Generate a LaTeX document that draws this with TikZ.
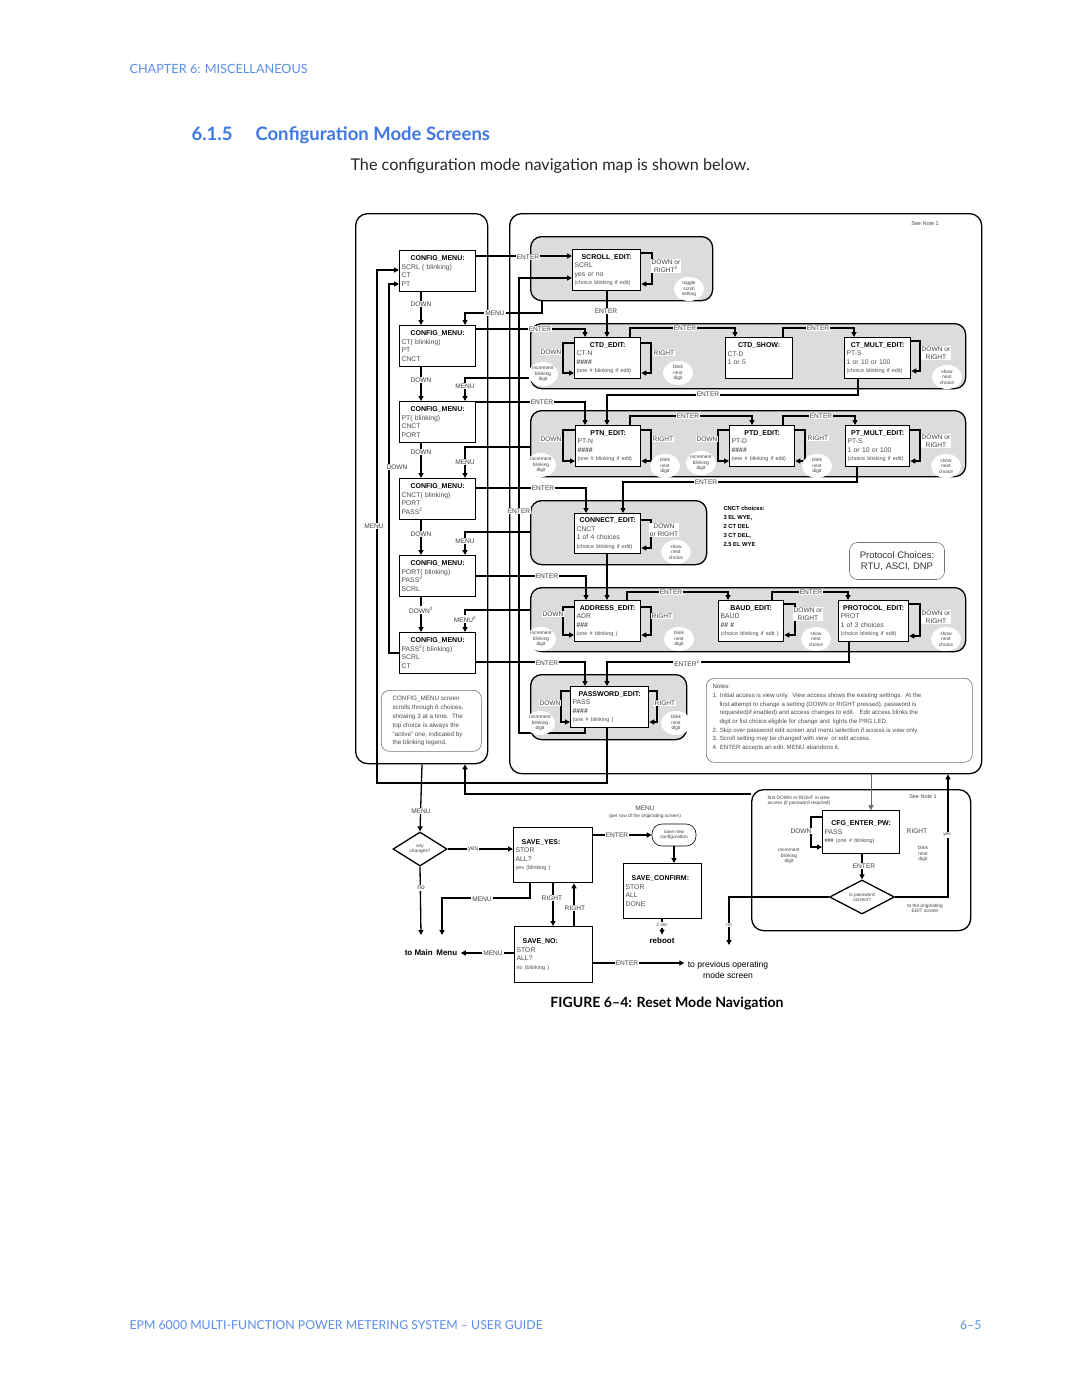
\documentclass[tikz,border=0pt]{standalone}
\usepackage{fontspec}
\usepackage{tikz}
\usetikzlibrary{arrows.meta,shapes.geometric}
\setmainfont{Liberation Sans}
\newfontfamily\pagefont{Lato}
\newfontfamily\diafont{Liberation Sans}
\definecolor{headblue}{HTML}{3F77E3}
\definecolor{chapblue}{HTML}{5B8DEC}
\definecolor{panelgray}{HTML}{DCDCDC}
\newcommand\boxfont{\diafont\fontsize{6.8}{8.6}\selectfont}
\newcommand\finefont{\fontsize{5.4}{8.6}\selectfont}
\newcommand\labfont{\diafont\fontsize{6.6}{7.6}\selectfont}
\newcommand\blobfont{\diafont\fontsize{4.8}{5.4}\selectfont}
\newcommand\notefont{\diafont\fontsize{6.1}{8.7}\selectfont}
\newcommand\scrtitle[1]{\makebox[\linewidth]{\color{black}\bfseries\fontsize{7}{8.6}\selectfont #1}}
\newcommand\scrleft[1]{\hspace*{6pt}{\color{black}\bfseries\fontsize{7}{8.6}\selectfont #1}}

\begin{document}
\begin{tikzpicture}[x=1pt,y=-1pt,
  every node/.style={font=\diafont},
  frame/.style={draw, line width=1.3pt, rounded corners=12pt, anchor=north west, inner sep=0pt},
  panel/.style={draw, line width=1.3pt, fill=panelgray, rounded corners=11pt, anchor=north west, inner sep=0pt},
  note/.style={draw=black!55, line width=0.6pt, rounded corners=8pt, anchor=north west, inner sep=0pt},
  screen/.style={draw, line width=1.3pt, fill=white, anchor=north west, align=left, inner xsep=2pt, inner ysep=2pt, font=\boxfont, text=black!70},
  lbl/.style={fill=white, inner sep=1pt, font=\labfont, text=black!75, align=center},
  blob/.style={ellipse, fill=white, inner sep=0pt, minimum width=30pt, minimum height=24pt, align=center, font=\blobfont, text=black!75},
  choice/.style={diamond, draw, line width=1.3pt, fill=white, aspect=1.6, inner sep=0pt, align=center, font=\blobfont, text=black!75},
  arr/.style={line width=1.3pt, -{Triangle[length=5pt,width=5pt]}},
  thinarr/.style={line width=0.5pt, draw=black!60, -{Triangle[length=5pt,width=5pt]}}
]
\fill[white] (0,0) rectangle (1080,1397);
\useasboundingbox (0,0) rectangle (1080,1397);

% page text
\node[anchor=base west, font=\pagefont\fontsize{12.7}{15}\selectfont, text=chapblue] (chap) at (126,74) {CHAPTER 6: MISCELLANEOUS};
\node[anchor=base west, font=\pagefont\bfseries\fontsize{18.5}{21}\selectfont, text=headblue] (secnum) at (188,140) {6.1.5};
\node[anchor=base west, font=\pagefont\bfseries\fontsize{18.5}{21}\selectfont, text=headblue] (sectitle) at (252,140) {Configuration Mode Screens};
\node[anchor=base west, font=\pagefont\fontsize{16.2}{19}\selectfont, text=black!85] (intro) at (347,170) {The configuration mode navigation map is shown below.};
\node[anchor=base, font=\pagefont\bfseries\fontsize{14.1}{16}\selectfont] (caption) at (667,1007) {FIGURE 6–4: Reset Mode Navigation};
\node[anchor=base west, font=\pagefont\fontsize{12.3}{14}\selectfont, text=chapblue] (foot) at (126,1329) {EPM 6000 MULTI-FUNCTION POWER METERING SYSTEM – USER GUIDE};
\node[anchor=base east, font=\pagefont\fontsize{12.3}{14}\selectfont, text=chapblue] (pagenum) at (985,1329) {6–5};

% frames and panels
\node[frame, minimum width=132pt, minimum height=550pt] (leftframe) at (355,213) {};
\node[frame, minimum width=472pt, minimum height=560pt] (rightframe) at (509,213) {};
\node[panel, minimum width=182pt, minimum height=64pt] (p1) at (530,236) {};
\node[panel, minimum width=435pt, minimum height=65pt] (p2) at (530,323) {};
\node[panel, minimum width=435pt, minimum height=66pt] (p3) at (530,410) {};
\node[panel, minimum width=176pt, minimum height=64pt] (p4) at (530,500) {};
\node[panel, minimum width=435pt, minimum height=64pt] (p5) at (530,587) {};
\node[panel, minimum width=156pt, minimum height=65pt] (p6) at (530,674) {};
\node[note, minimum width=100pt, minimum height=61pt] (cmnote) at (381,690) {};
\node[note, minimum width=266pt, minimum height=84pt] (notes) at (706,678) {};
\node[frame, minimum width=219pt, minimum height=141pt] (pwframe) at (751,789) {};

% config menu screens
\node[screen, text width=72pt, minimum height=41pt] (cm1) at (399,250) {\scrtitle{CONFIG\_MENU:}\\SCRL ( blinking)\\CT\\PT};
\node[screen, text width=72pt, minimum height=41pt] (cm2) at (399,325) {\scrtitle{CONFIG\_MENU:}\\CT( blinking)\\PT\\CNCT};
\node[screen, text width=72pt, minimum height=41pt] (cm3) at (399,401) {\scrtitle{CONFIG\_MENU:}\\PT( blinking)\\CNCT\\PORT};
\node[screen, text width=72pt, minimum height=41pt] (cm4) at (399,478) {\scrtitle{CONFIG\_MENU:}\\CNCT( blinking)\\PORT\\PASS\textsuperscript{2}};
\node[screen, text width=72pt, minimum height=41pt] (cm5) at (399,555) {\scrtitle{CONFIG\_MENU:}\\PORT( blinking)\\PASS\textsuperscript{2}\\SCRL};
\node[screen, text width=72pt, minimum height=41pt] (cm6) at (399,632) {\scrtitle{CONFIG\_MENU:}\\PASS\textsuperscript{2}( blinking)\\SCRL\\CT};

% edit screens
\node[screen, text width=64pt, minimum height=41pt] (scrolledit) at (572,249) {\scrtitle{SCROLL\_EDIT:}\\SCRL\\yes or no\\{\finefont (choice blinking if edit)}};
\node[screen, text width=62pt, minimum height=41pt] (ctdedit) at (574,337) {\scrtitle{CTD\_EDIT:}\\CT-N\\{\bfseries\#\#\#\#}\\{\finefont (one \# blinking if edit)}};
\node[screen, text width=63pt, minimum height=41pt] (ctdshow) at (725,337) {\scrtitle{CTD\_SHOW:}\\CT-D\\1 or 5\\\mbox{}};
\node[screen, text width=62pt, minimum height=41pt] (ctmult) at (844,337) {\scrtitle{CT\_MULT\_EDIT:}\\PT-S\\1 or 10 or 100\\{\finefont (choice blinking if edit)}};
\node[screen, text width=61pt, minimum height=41pt] (ptnedit) at (575,425) {\scrtitle{PTN\_EDIT:}\\PT-N\\{\bfseries\#\#\#\#}\\{\finefont (one \# blinking if edit)}};
\node[screen, text width=61pt, minimum height=41pt] (ptdedit) at (729,425) {\scrtitle{PTD\_EDIT:}\\PT-D\\{\bfseries\#\#\#\#}\\{\finefont (one \# blinking if edit)}};
\node[screen, text width=60pt, minimum height=41pt] (ptmult) at (845,425) {\scrtitle{PT\_MULT\_EDIT:}\\PT-S\\1 or 10 or 100\\{\finefont (choice blinking if edit)}};
\node[screen, text width=62pt, minimum height=40pt] (connedit) at (574,513) {\scrtitle{CONNECT\_EDIT:}\\CNCT\\1 of 4 choices\\{\finefont (choice blinking if edit)}};
\node[screen, text width=62pt, minimum height=41pt] (addredit) at (574,600) {\scrtitle{ADDRESS\_EDIT:}\\ADR\\{\bfseries\#\#\#}\\{\finefont (one \# blinking )}};
\node[screen, text width=61pt, minimum height=41pt] (baudedit) at (718,600) {\scrtitle{BAUD\_EDIT:}\\BAUD\\{\bfseries\#\# \#}\\{\finefont (choice blinking if edit )}};
\node[screen, text width=66pt, minimum height=41pt] (protedit) at (838,600) {\scrtitle{PROTOCOL\_EDIT:}\\PROT\\1 of 3 choices\\{\finefont (choice blinking if edit)}};
\node[screen, text width=74pt, minimum height=41pt] (passedit) at (570,686) {\scrtitle{PASSWORD\_EDIT:}\\PASS\\{\bfseries\#\#\#\#}\\{\finefont (one \# blinking )}};

% save and password screens
\node[screen, text width=75pt, minimum height=55pt] (saveyes) at (513,827) {\scrleft{SAVE\_YES:}\\STOR\\ALL?\\{\finefont yes (blinking )}};
\node[screen, text width=74pt, minimum height=56pt] (saveno) at (514,926) {\scrleft{SAVE\_NO:}\\STOR\\ALL?\\{\finefont no (blinking )}};
\node[screen, text width=74pt, minimum height=55pt] (saveconf) at (623,863) {\scrleft{SAVE\_CONFIRM:}\\STOR\\ALL\\DONE};
\node[screen, text width=73pt, minimum height=43pt] (cfgpw) at (822,810) {\scrtitle{CFG\_ENTER\_PW:}\\PASS\\{\finefont\bfseries\#\#\#}{\finefont\ (one \# blinking)}};
\node[choice, minimum width=54pt, minimum height=34pt] (anychg) at (420,849) {any\\changes?};
\node[choice, minimum width=65pt, minimum height=34pt] (pwok) at (862,897) {is password\\correct?};
\node[draw, line width=0.6pt, rounded corners=10pt, minimum width=44pt, minimum height=22pt, inner sep=0pt, align=center, font=\blobfont, text=black!75] (savenew) at (674,835) {save new\\configuration};
\node[font=\diafont\bfseries\fontsize{8}{9}\selectfont] (tomain) at (431,953) {to Main\, Menu};
\node[align=center, font=\diafont\fontsize{8.6}{11}\selectfont] (toprev) at (728,970) {to previous operating\\mode screen};
\node[font=\diafont\bfseries\fontsize{8}{9}\selectfont] (reboot) at (662,941) {reboot};
\coordinate (nomain) at (421,935);
\coordinate (menumain) at (442,935);
\coordinate (prevgo) at (729,945);

% down arrows between config menus
\draw[arr] (cm1.south -| 421,0) -- (cm2.north -| 421,0);
\draw[arr] (cm2.south -| 421,0) -- (cm3.north -| 421,0);
\draw[arr] (cm3.south -| 421,0) -- (cm4.north -| 421,0);
\draw[arr] (cm4.south -| 421,0) -- (cm5.north -| 421,0);
\draw[arr] (cm5.south -| 421,0) -- (cm6.north -| 421,0);
\draw[arr] (cm6.west |- 0,653) -| (389,284) -- (cm1.west |- 0,284);
\draw[arr] (passedit.south -| 607,0) -- (607,783) -| (377,270) -- (cm1.west |- 0,270);

% menu returns
\draw[arr] (p1.south -| 542,0) |- (465,313) -- (cm2.north -| 465,0);
\draw[arr] (p2.west |- 0,378) -| (cm3.north -| 465,0);
\draw[arr] (p3.west |- 0,447) -| (cm4.north -| 465,0);
\draw[arr] (p4.west |- 0,532) -| (cm5.north -| 465,0);
\draw[arr] (p5.west |- 0,610) -| (cm6.north -| 465,0);

% enter from config menus
\draw[arr] (cm1.east |- 0,256) -- (scrolledit.west |- 0,256);
\draw[arr] (cm2.east |- 0,329) -| (ctdedit.north -| 585,0);
\draw[arr] (cm3.east |- 0,402) -| (ptnedit.north -| 585,0);
\draw[arr] (cm4.east |- 0,488) -| (connedit.north -| 586,0);
\draw[arr] (cm5.east |- 0,576) -| (addredit.north -| 586,0);
\draw[arr] (cm6.east |- 0,662) -| (passedit.north -| 585,0);

% scroll row
\draw[arr] (scrolledit.east |- 0,253) -| (652,284) -- (scrolledit.east |- 0,284);
\draw[arr] (scrolledit.south -| 607,0) -- (ctdedit.north -| 607,0);

% ct row
\draw[arr] (ctdedit.west |- 0,343) -| (563,373) -- (ctdedit.west |- 0,373);
\draw[arr] (ctdedit.east |- 0,343) -| (651,373) -- (ctdedit.east |- 0,373);
\draw[arr] (ctdedit.north -| 630,0) |- (735,328) -- (ctdshow.north -| 735,0);
\draw[arr] (ctdshow.north -| 783,0) |- (854,328) -- (ctmult.north -| 854,0);
\draw[arr] (ctmult.east |- 0,341) -| (920,371) -- (ctmult.east |- 0,371);
\draw[arr] (ctmult.south -| 858,0) |- (607,395) -- (ptnedit.north -| 607,0);

% pt row
\draw[arr] (ptnedit.west |- 0,430) -| (563,461) -- (ptnedit.west |- 0,461);
\draw[arr] (ptnedit.east |- 0,430) -| (651,461) -- (ptnedit.east |- 0,461);
\draw[arr] (ptnedit.north -| 630,0) |- (752,416) -- (ptdedit.north -| 752,0);
\draw[arr] (ptdedit.west |- 0,430) -| (718,461) -- (ptdedit.west |- 0,461);
\draw[arr] (ptdedit.east |- 0,430) -| (805,461) -- (ptdedit.east |- 0,461);
\draw[arr] (ptdedit.north -| 783,0) |- (855,416) -- (ptmult.north -| 855,0);
\draw[arr] (ptmult.east |- 0,430) -| (920,461) -- (ptmult.east |- 0,461);
\draw[arr] (ptmult.south -| 857,0) |- (623,482) -- (connedit.north -| 623,0);

% connect row
\draw[arr] (connedit.east |- 0,520) -| (651,548) -- (connedit.east |- 0,548);
\draw[arr] (connedit.south -| 607,0) -- (addredit.north -| 607,0);

% comm row
\draw[arr] (addredit.west |- 0,607) -| (563,635) -- (addredit.west |- 0,635);
\draw[arr] (addredit.east |- 0,607) -| (651,635) -- (addredit.east |- 0,635);
\draw[arr] (addredit.north -| 627,0) |- (728,592) -- (baudedit.north -| 728,0);
\draw[arr] (baudedit.east |- 0,604) -| (795,635) -- (baudedit.east |- 0,635);
\draw[arr] (baudedit.north -| 772,0) |- (848,592) -- (protedit.north -| 848,0);
\draw[arr] (protedit.east |- 0,604) -| (920,636) -- (protedit.east |- 0,636);
\draw[arr] (protedit.south -| 849,0) |- (607,662) -- (passedit.north -| 607,0);

% password row
\draw[arr] (passedit.west |- 0,691) -| (561,722) -- (passedit.west |- 0,722);
\draw[arr] (passedit.east |- 0,691) -| (657,722) -- (passedit.east |- 0,722);
\draw[arr] (passedit.south -| 585,0) |- (519,733) -- (519,278) -- (scrolledit.west |- 0,278);

% save sequence
\draw[arr] (leftframe.south -| 422,0) -- (anychg.north);
\draw[arr] (anychg.east) -- (saveyes.west |- anychg.east);
\draw[arr] (anychg.south) -- (nomain);
\draw[arr] (saveyes.south -| 530,0) |- (menumain |- 0,898) -- (menumain);
\draw[arr] (saveyes.south -| 553,0) -- (saveno.north -| 553,0);
\draw[arr] (saveno.north -| 574,0) -- (saveyes.south -| 574,0);
\draw[arr] (saveno.west |- 0,953) -- (tomain.east);
\draw[arr] (saveno.east |- 0,963) -- (toprev.west |- 0,963);
\draw[arr] (saveyes.east |- 0,835) -- (savenew.west);
\draw[arr] (savenew.south) -- (saveconf.north -| savenew.south);
\draw[arr] (saveconf.south -| reboot.north) -- (reboot.north);

% password check
\draw[thinarr] (rightframe.south -| 871,0) -- (cfgpw.north -| 871,0);
\draw[arr] (cfgpw.west |- 0,817) -| (811,847) -- (cfgpw.west |- 0,847);
\draw[arr] (cfgpw.south -| pwok.north) -- (pwok.north);
\draw[arr] (pwok.east) -| (rightframe.south -| 948,0);
\draw[arr] (pwok.west) -| (prevgo);
\draw[arr] (pwframe.west |- 0,794) -| (leftframe.south -| 465,0);

% labels
\node[lbl] (d1) at (421,304) {DOWN};
\node[lbl] (d2) at (421,380) {DOWN};
\node[lbl] (d3) at (421,452) {DOWN};
\node[lbl] (d4) at (421,534) {DOWN};
\node[lbl] (d5) at (421,610) {DOWN\textsuperscript{2}};
\node[lbl] (d6) at (397,467) {DOWN};
\node[lbl] (m0) at (374,526) {MENU};
\node[lbl] (m1) at (495,313) {MENU};
\node[lbl] (m2) at (465,386) {MENU};
\node[lbl] (m3) at (465,462) {MENU};
\node[lbl] (m4) at (465,541) {MENU};
\node[lbl] (m5) at (465,619) {MENU\textsuperscript{2}};
\node[lbl] (n1) at (528,257) {ENTER};
\node[lbl] (n2) at (540,329) {ENTER};
\node[lbl] (n3) at (542,402) {ENTER};
\node[lbl] (n4) at (543,488) {ENTER};
\node[lbl] (n5) at (547,576) {ENTER};
\node[lbl] (n6) at (547,663) {ENTER};
\node[lbl] (n7) at (606,311) {ENTER};
\node[lbl] (n8) at (685,328) {ENTER};
\node[lbl] (n9) at (818,328) {ENTER};
\node[lbl] (n10) at (708,394) {ENTER};
\node[lbl] (n11) at (688,416) {ENTER};
\node[lbl] (n12) at (821,416) {ENTER};
\node[lbl] (n13) at (706,482) {ENTER};
\node[lbl] (n14) at (671,592) {ENTER};
\node[lbl] (n15) at (811,592) {ENTER};
\node[lbl] (n16) at (687,663) {ENTER\textsuperscript{2}};
\node[lbl] (n17) at (519,511) {ENTER};
\node[lbl] (k1) at (666,266) {DOWN or\\RIGHT\textsuperscript{2}};
\node[lbl] (k2) at (551,352) {DOWN};
\node[lbl] (k3) at (664,353) {RIGHT};
\node[lbl] (k4) at (936,353) {DOWN or\\RIGHT};
\node[lbl] (k5) at (551,439) {DOWN};
\node[lbl] (k6) at (663,439) {RIGHT};
\node[lbl] (k7) at (707,439) {DOWN};
\node[lbl] (k8) at (818,438) {RIGHT};
\node[lbl] (k9) at (936,441) {DOWN or\\RIGHT};
\node[lbl] (k10) at (664,530) {DOWN\\or RIGHT};
\node[lbl] (k11) at (553,614) {DOWN};
\node[lbl] (k12) at (662,616) {RIGHT};
\node[lbl] (k13) at (808,614) {DOWN or\\RIGHT};
\node[lbl] (k14) at (936,617) {DOWN or\\RIGHT};
\node[lbl] (k15) at (550,703) {DOWN};
\node[lbl] (k16) at (665,703) {RIGHT};
\node[blob] (b1) at (689,289) {toggle\\scroll\\setting};
\node[blob] (b2) at (543,374) {increment\\blinking\\digit};
\node[blob] (b3) at (678,373) {blink\\next\\digit};
\node[blob] (b4) at (947,377) {show\\next\\choice};
\node[blob] (b5) at (541,465) {increment\\blinking\\digit};
\node[blob] (b6) at (665,466) {blink\\next\\digit};
\node[blob] (b7) at (701,463) {increment\\blinking\\digit};
\node[blob] (b8) at (817,466) {blink\\next\\digit};
\node[blob] (b9) at (946,466) {show\\next\\choice};
\node[blob] (b10) at (676,552) {show\\next\\choice};
\node[blob] (b11) at (541,639) {increment\\blinking\\digit};
\node[blob] (b12) at (679,639) {blink\\next\\digit};
\node[blob] (b13) at (816,639) {show\\next\\choice};
\node[blob] (b14) at (946,639) {show\\next\\choice};
\node[blob] (b15) at (540,723) {increment\\blinking\\digit};
\node[blob] (b16) at (676,723) {blink\\next\\digit};

% bottom labels
\node[lbl] (s1) at (421,811) {MENU};
\node[lbl] (s2) at (473,849) {yes};
\node[lbl] (s3) at (421,888) {no};
\node[lbl] (s4) at (482,899) {MENU};
\node[lbl] (s5) at (552,898) {RIGHT};
\node[lbl] (s6) at (575,908) {RIGHT};
\node[lbl] (s7) at (493,953) {MENU};
\node[lbl] (s8) at (627,963) {ENTER};
\node[lbl] (s9) at (617,835) {ENTER};
\node[lbl, font=\blobfont] (s10) at (662,925) {2 sec};
\node[align=center, font=\labfont, text=black!75] (menurow) at (645,812) {MENU\\[-1pt]{\blobfont (per row of the originating screen)}};
\node[lbl] (s11) at (801,831) {DOWN};
\node[lbl] (s12) at (917,831) {RIGHT};
\node[lbl] (s13) at (864,866) {ENTER};
\node[lbl, font=\blobfont] (s14) at (947,835) {yes};
\node[lbl, font=\blobfont] (s15) at (729,925) {no};
\node[align=center, font=\blobfont, text=black!75] (s16) at (789,856) {increment\\blinking\\digit};
\node[align=center, font=\blobfont, text=black!75] (s17) at (923,854) {blink\\next\\digit};
\node[align=center, font=\blobfont, text=black!75] (s18) at (925,908) {to the originating\\EDIT screen};
\node[anchor=north west, align=left, font=\blobfont, text=black!75] (s19) at (764,792) {first DOWN or RIGHT in view\\access (if password required)};
\node[font=\diafont\fontsize{5.5}{6}\selectfont, text=black!70] (s20) at (923,797) {See Note 1};

% texts
\node[font=\diafont\fontsize{5.5}{6}\selectfont, text=black!70] (seenote) at (925,224) {See Note 1};
\node[anchor=north west, align=left, font=\diafont\bfseries\fontsize{5.8}{9}\selectfont] (cnct) at (720,503) {CNCT choices:\\3 EL WYE,\\2 CT DEL\\3 CT DEL,\\2.5 EL WYE};
\node[note, anchor=center, minimum width=95pt, minimum height=37pt, align=center, font=\diafont\fontsize{9.5}{11}\selectfont, text=black!80] (protbox) at (897,561) {Protocol Choices:\\RTU, ASCI, DNP};
\node[anchor=north west, align=left, font=\diafont\fontsize{6.3}{8.8}\selectfont, text=black!70] (cmtext) at (389,693) {CONFIG\_MENU screen\\scrolls through 6 choices,\\showing 3 at a time.\ \ The\\top choice is always the\\“active” one, indicated by\\the blinking legend.};
\node[anchor=north west, align=left, font=\notefont, text=black!70] (notetext) at (709,681) {Notes:\\1. Initial access is view only.\ \ View access shows the existing settings.\ \ At the\\\hspace*{7pt}first attempt to change a setting (DOWN or RIGHT pressed), password is\\\hspace*{7pt}requested(if enabled) and access changes to edit.\ \ \ Edit access blinks the\\\hspace*{7pt}digit or fist choice eligible for change and\ \ lights the PRG LED.\\2. Skip over password edit screen and menu selection if access is view only.\\3. Scroll setting may be changed with view\ \ or edit access.\\4. ENTER accepts an edit; MENU abandons it.};
\end{tikzpicture}
\end{document}
